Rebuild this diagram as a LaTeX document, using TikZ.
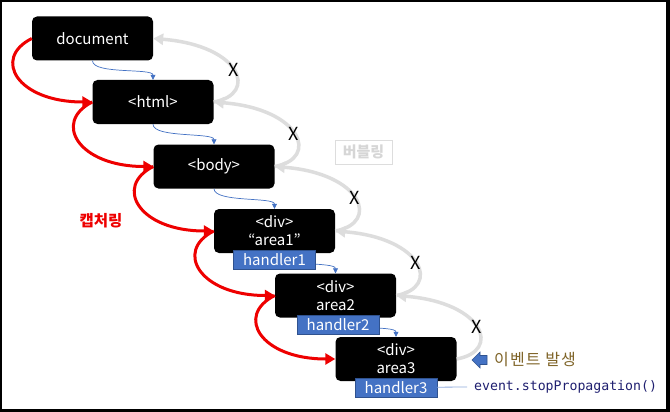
\documentclass[tikz,border=0pt]{standalone}
\usepackage{fontspec}
\setmainfont{Noto Sans CJK KR}
\setmonofont{DejaVu Sans Mono}
\usetikzlibrary{arrows.meta,calc,positioning}
\definecolor{boxblue}{HTML}{4472C4}
\definecolor{boxedge}{HTML}{2F528F}
\definecolor{capred}{HTML}{EE0000}
\definecolor{bubgray}{HTML}{DDDDDD}
\definecolor{bubtext}{HTML}{D6D6D6}
\definecolor{codenavy}{HTML}{1F1F70}
\definecolor{eventbrown}{HTML}{7F6428}
\definecolor{linkblue}{HTML}{8FAADC}

\tikzset{
  elem/.style={fill=black, rounded corners=5pt, minimum width=121pt, minimum height=44pt,
    text=white, align=center, inner sep=0pt, font=\fontsize{15}{18}\selectfont},
  handler/.style={fill=boxblue, draw=boxedge, minimum width=82pt, minimum height=19pt,
    text=white, inner sep=0pt, font=\fontsize{15}{18}\selectfont},
  capture/.style={capred, line width=3pt, -{Triangle[length=10pt,width=11pt]}},
  bubble/.style={bubgray, line width=3.5pt, -{Triangle[length=10pt,width=11pt]}},
  flow/.style={boxblue, line width=0.7pt, -{Triangle[length=5pt,width=5pt]}},
  cross/.style={text=black, inner sep=0pt, font=\fontsize{18}{18}\selectfont},
}

\begin{document}
\begin{tikzpicture}[x=1pt,y=-1pt]
\useasboundingbox (0,0) rectangle (670,412);
\fill (0,0) rectangle (670,412);
\fill[white] (2,2) rectangle (666,409);

% element boxes
\node[elem] (doc) at (92.5,38.5) {document};
\node[elem] (html) at (153,102) {<html>};
\node[elem] (body) at (214,166.5) {<body>};
\node[elem] (a1) at (274.5,231) {<div>\\“area1”};
\node[elem] (a2) at (335.5,295.5) {<div>\\area2};
\node[elem] (a3) at (396,359) {<div>\\area3};

% tree order
\foreach \u/\v in {doc/html,html/body,body/a1,a1/a2,a2/a3}
  \draw[flow] (\u.south) .. controls +(0,14) and +(0,-12) .. (\v.north);

\node[handler] (h1) at ([yshift=-6pt]a1.south) {handler1};
\node[handler] (h2) at ([xshift=2.5pt,yshift=-7pt]a2.south) {handler2};
\node[handler] (h3) at ([yshift=-6pt]a3.south) {handler3};

% capturing
\foreach \u/\v in {doc/html,html/body,body/a1,a1/a2,a2/a3}
  \draw[capture] (\u.west) .. controls +(-40,20) and +(-75,0) .. (\v.west);
\node[text=capred, font=\fontsize{15.5}{18}\selectfont\bfseries] (caplbl) at (101,221) {캡처링};

% bubbling (stopped)
\foreach \u/\v in {html/doc,body/html,a1/body,a2/a1,a3/a2}
  \draw[bubble] (\u.east) .. controls +(45,-8) and +(88,7) .. node[cross] {X} (\v.east);
\node[draw=bubgray, text=bubtext, minimum width=57pt, minimum height=24pt, inner sep=0pt,
  font=\fontsize{15}{18}\selectfont\bfseries] (bublbl) at (363.5,152) {버블링};

% event source
\node[text=eventbrown, anchor=west, inner sep=0pt,
  font=\fontsize{16}{18}\selectfont\addfontfeature{LetterSpace=7}] (evt) at (494,360) {이벤트 발생};
\filldraw[fill=boxblue, draw=boxedge, line width=0.6pt]
  (472,360) -- (480,352) -- (480,355.5) -- (487,355.5) -- (487,364.5)
  -- (480,364.5) -- (480,368) -- cycle;
\node[text=codenavy, anchor=west, inner sep=0pt, font=\ttfamily\fontsize{13.2}{16}\selectfont] (stop) at (474,387) {event.stopPropagation()};
\draw[linkblue, line width=0.8pt] (h3.east) -- ([xshift=-7pt]stop.west);
\end{tikzpicture}
\end{document}
